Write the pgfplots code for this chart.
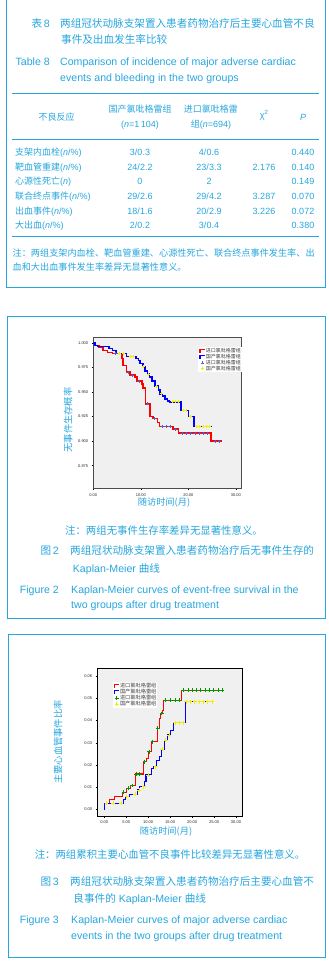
\documentclass[border=0pt]{standalone}
\usepackage{pgfplots}
\pgfplotsset{compat=1.18}
\usepackage{fontspec}
\setmainfont{Liberation Sans}
\newfontfamily\cjk{Noto Sans CJK SC}
\definecolor{tb}{RGB}{38,166,222}
\definecolor{bgc}{RGB}{240,240,240}
\definecolor{kred}{RGB}{255,0,0}
\definecolor{kblue}{RGB}{0,0,255}
\definecolor{kyel}{RGB}{240,240,0}
\definecolor{kgreen}{RGB}{0,150,0}
\definecolor{kcens}{RGB}{90,90,200}
\newcommand{\fs}[1]{\fontsize{#1bp}{#1bp}\selectfont}
\pgfplotsset{
  km/.style={scale only axis, axis background/.style={fill=bgc},
    tick pos=left, tick align=outside, major tick length=1.6bp,
    tick style={black, line width=0.4bp},
    ticklabel style={font=\fs{4}, text=black!85},
    scaled x ticks=false, scaled y ticks=false,
    legend cell align=left,
  },
  stepimg/.style={legend image code/.code={\draw[##1,sharp plot] (0bp,-1.8bp) -- (0bp,1.3bp) -- (5bp,1.3bp);}},
  markimg/.style={legend image code/.code={\draw[##1] plot coordinates {(2.5bp,0bp)};}},
  nf/.style={/pgf/number format/fixed, /pgf/number format/fixed zerofill,
    /pgf/number format/precision=#1, /pgf/number format/assume math mode=true},
}
\begin{document}
\begin{tikzpicture}[x=1bp,y=1bp]
\path[use as bounding box] (0,0) rectangle (328,-965);
% ---------- boxes
\draw[tb, line width=1bp] (6.5,5) -- (6.5,-287.3) -- (325,-287.3) -- (325,5);
\draw[tb, line width=1bp] (7,-316) rectangle (325,-618);
\draw[tb, line width=1bp] (8,-634) rectangle (325,-957.3);
% ---------- table title
\begin{scope}[every node/.style={inner sep=0, text=tb}]
\node[anchor=base east, font=\fs{10.6}] at (50,-27.2) {{\cjk 表}\,8};
\node[anchor=base west, font=\fs{10.6}\cjk] at (60,-27.2) {两组冠状动脉支架置入患者药物治疗后主要心血管不良};
\node[anchor=base west, font=\fs{10.6}\cjk] at (61,-43.2) {事件及出血发生率比较};
\node[anchor=base east, font=\fs{10.6}] at (50,-65.5) {Table 8};
\node[anchor=base west, font=\fs{10.6}] at (60,-65.5) {Comparison of incidence of major adverse cardiac};
\node[anchor=base west, font=\fs{10.6}] at (60,-81.2) {events and bleeding in the two groups};
\draw[tb, line width=0.9bp] (12,-93.3) -- (319,-93.3);
\draw[tb, line width=0.9bp] (12,-139.3) -- (319,-139.3);
\draw[tb, line width=0.9bp] (12,-236) -- (319,-236);
% header
\node[anchor=base, font=\fs{9}\cjk] at (56.7,-120) {不良反应};
\node[anchor=base, font=\fs{9}\cjk] at (140,-112.3) {国产氯吡格雷组};
\node[anchor=base, font=\fs{9}] at (140,-127.6) {(\textit{n}=1\,104)};
\node[anchor=base, font=\fs{9}\cjk] at (210.8,-112.3) {进口氯吡格雷};
\node[anchor=base, font=\fs{9}] at (211,-127.6) {{\cjk 组}(\textit{n}=694)};
\node[anchor=base, font=\fs{9}] at (264,-118.3) {χ\raisebox{3.5bp}{\fs{6}2}};
\node[anchor=base, font=\fs{9}] at (303,-120) {\textit{P}};
% rows
\begin{scope}[every node/.append style={font=\fs{9}}]
\node[anchor=base west] at (15,-155.6) {{\cjk 支架内血栓}(\textit{n}/\%)};
\node[anchor=base] at (140,-155.6) {3/0.3};
\node[anchor=base] at (209,-155.6) {4/0.6};
\node[anchor=base] at (303,-155.6) {0.440};
\node[anchor=base west] at (15,-170.3) {{\cjk 靶血管重建}(\textit{n}/\%)};
\node[anchor=base] at (140,-170.3) {24/2.2};
\node[anchor=base] at (209,-170.3) {23/3.3};
\node[anchor=base] at (264,-170.3) {2.176};
\node[anchor=base] at (303,-170.3) {0.140};
\node[anchor=base west] at (15,-184.9) {{\cjk 心源性死亡}(\textit{n})};
\node[anchor=base] at (140,-184.9) {0};
\node[anchor=base] at (209,-184.9) {2};
\node[anchor=base] at (303,-184.9) {0.149};
\node[anchor=base west] at (15,-199.5) {{\cjk 联合终点事件}(\textit{n}/\%)};
\node[anchor=base] at (140,-199.5) {29/2.6};
\node[anchor=base] at (209,-199.5) {29/4.2};
\node[anchor=base] at (264,-199.5) {3.287};
\node[anchor=base] at (303,-199.5) {0.070};
\node[anchor=base west] at (15,-214.1) {{\cjk 出血事件}(\textit{n}/\%)};
\node[anchor=base] at (140,-214.1) {18/1.6};
\node[anchor=base] at (209,-214.1) {20/2.9};
\node[anchor=base] at (264,-214.1) {3.226};
\node[anchor=base] at (303,-214.1) {0.072};
\node[anchor=base west] at (15,-228.7) {{\cjk 大出血}(\textit{n}/\%)};
\node[anchor=base] at (140,-228.7) {2/0.2};
\node[anchor=base] at (209,-228.7) {3/0.4};
\node[anchor=base] at (303,-228.7) {0.380};
\end{scope}
\node[anchor=base west, font=\fs{9.15}\cjk] at (12.5,-256.1) {注：两组支架内血栓、靶血管重建、心源性死亡、联合终点事件发生率、出};
\node[anchor=base west, font=\fs{9.15}\cjk] at (12.5,-270.7) {血和大出血事件发生率差异无显著性意义。};
% ---------- figure 2 texts
\node[rotate=90, font=\fs{9.3}\cjk] at (68,-420) {无事件生存概率};
\node[font=\fs{9.2}\cjk] at (164,-503) {随访时间(月)};
\node[anchor=base, font=\fs{10.4}\cjk] at (164,-534.6) {注：两组无事件生存率差异无显著性意义。};
\node[anchor=base east, font=\fs{10.6}] at (59,-554.9) {{\cjk 图}\,2};
\node[anchor=base west, font=\fs{10.6}\cjk] at (70,-554.9) {两组冠状动脉支架置入患者药物治疗后无事件生存的};
\node[anchor=base west, font=\fs{10.6}] at (72.7,-572.2) {Kaplan-Meier {\cjk 曲线}};
\node[anchor=base east, font=\fs{10.6}] at (59,-593.2) {Figure 2};
\node[anchor=base west, font=\fs{10.6}] at (71,-593.2) {Kaplan-Meier curves of event-free survival in the};
\node[anchor=base west, font=\fs{10.6}] at (71,-608.9) {two groups after drug treatment};
% ---------- figure 3 texts
\node[rotate=90, font=\fs{9.3}\cjk] at (58,-742) {主要心血管事件比率};
\node[font=\fs{9.2}\cjk] at (166,-832) {随访时间(月)};
\node[anchor=base, font=\fs{10.4}\cjk] at (170,-858.9) {注：两组累积主要心血管不良事件比较差异无显著性意义。};
\node[anchor=base east, font=\fs{10.6}] at (59,-885.6) {{\cjk 图}\,3};
\node[anchor=base west, font=\fs{10.6}\cjk] at (70,-885.6) {两组冠状动脉支架置入患者药物治疗后主要心血管不};
\node[anchor=base west, font=\fs{10.6}] at (73.3,-902.2) {{\cjk 良事件的} Kaplan-Meier {\cjk 曲线}};
\node[anchor=base east, font=\fs{10.6}] at (59,-923.2) {Figure 3};
\node[anchor=base west, font=\fs{10.6}] at (71,-923.2) {Kaplan-Meier curves of major adverse cardiac};
\node[anchor=base west, font=\fs{10.6}] at (71,-939.6) {events in the two groups after drug treatment};
\end{scope}

% ---------- chart 1: event-free survival
\begin{axis}[km, at={(93.3bp,-488.3bp)}, anchor=south west,
  width=148.4bp, height=151.3bp,
  xmin=0, xmax=31.24, ymin=0.852, ymax=1.0058,
  axis line style={draw=black!70, line width=0.8bp},
  xtick={0,10,20,30}, ytick={0.875,0.9,0.925,0.95,0.975,1},
  x tick label style={nf=2},
  y tick label style={nf=3},
  legend style={at={(1,0.934)}, anchor=north east, fill=white, draw=none,
    inner sep=0.6bp, font=\fs{5}\cjk, text=black!75, row sep=0bp,
    nodes={inner sep=0.15bp}},
]
\addplot[const plot, kred, line width=1.6bp, stepimg] coordinates {
(0,1.000) (0.5,0.997) (1.2,0.995) (2.0,0.992) (3.0,0.990) (4.0,0.989)
(6.0,0.984) (6.3,0.977) (7.0,0.970) (7.7,0.967) (8.8,0.965) (9.2,0.961)
(10.2,0.958) (10.5,0.954) (11.0,0.938) (11.9,0.925) (12.6,0.923) (13.5,0.919)
(13.9,0.915) (16.8,0.912) (17.9,0.908) (24.8,0.900) (27.0,0.900)};
\addlegendentry{进口氯吡格雷组}
\addplot[const plot, kblue, line width=1.6bp, stepimg] coordinates {
(0,1.000) (0.4,0.997) (0.9,0.996) (3.3,0.994) (4.0,0.992) (4.8,0.989)
(7.0,0.986) (9.0,0.984) (9.5,0.982) (9.8,0.979) (10.4,0.976) (10.9,0.971)
(11.4,0.968) (11.8,0.965) (12.3,0.961) (13.0,0.956) (13.7,0.952) (14.0,0.948)
(14.6,0.946) (15.1,0.943) (15.6,0.941) (16.0,0.940) (18.4,0.931) (20.0,0.925)
(21.2,0.915) (24.9,0.915)};
\addlegendentry{国产氯吡格雷组}
\addplot[only marks, mark=+, mark size=1.5bp, kcens, line width=0.4bp, markimg] coordinates {
(4.6,0.989) (5.4,0.989) (7.3,0.970) (8.2,0.967) (9.6,0.961) (11.4,0.938)
(12.9,0.923) (14.5,0.915) (15.3,0.915) (16.1,0.915) (17.3,0.912) (18.7,0.908)
(19.6,0.908) (20.5,0.908) (21.4,0.908) (22.3,0.908) (23.2,0.908) (24.0,0.908)
(25.7,0.900) (26.5,0.900)};
\addlegendentry{进口氯吡格雷组}
\addplot[only marks, mark=+, mark size=1.5bp, kyel, line width=0.8bp, markimg] coordinates {
(5.5,0.989) (6.4,0.989) (7.8,0.986) (8.5,0.986) (10.6,0.976) (11.6,0.968)
(13.3,0.956) (14.3,0.948) (16.6,0.940) (17.3,0.940) (18.0,0.940) (18.9,0.931)
(19.5,0.931) (20.5,0.925) (21.7,0.915) (22.4,0.915) (23.1,0.915) (23.8,0.915)
(24.5,0.915)};
\addlegendentry{国产氯吡格雷组}
\end{axis}

% ---------- chart 2: cumulative MACE
\begin{axis}[km, at={(97.3bp,-816bp)}, anchor=south west,
  width=145.4bp, height=147.7bp,
  xmin=-1.59, xmax=31.53, ymin=-0.003, ymax=0.0635,
  axis line style={draw=black, line width=1bp},
  xtick={0,5,10,15,20,25,30}, ytick={0,0.01,0.02,0.03,0.04,0.05,0.06},
  x tick label style={nf=2},
  y tick label style={nf=2},
  legend style={at={(0.108,0.907)}, anchor=north west, fill=white, draw=none,
    inner sep=0.6bp, font=\fs{5.2}\cjk, text=black!75, row sep=0bp,
    nodes={inner sep=0.1bp}},
]
\addplot[const plot, kred, line width=1.1bp, stepimg] coordinates {
(0,0) (0.15,0.0027) (1.1,0.0045) (2.4,0.0057) (4.2,0.0077) (5.1,0.0095)
(6.0,0.0107) (7.1,0.0159) (9.0,0.0215) (9.6,0.0230) (10.1,0.0260) (10.8,0.0305)
(12.1,0.0365) (12.5,0.0410) (12.9,0.0432) (13.3,0.0447) (13.4,0.0492)
(17.6,0.0537) (27.0,0.0537)};
\addlegendentry{进口氯吡格雷组}
\addplot[const plot, kblue, line width=1.1bp, stepimg] coordinates {
(0,0) (0.05,0.0027) (4.3,0.0045) (4.9,0.0057) (5.8,0.0068) (7.5,0.0087)
(8.1,0.0102) (9.1,0.0125) (9.5,0.0155) (10.8,0.0185) (11.3,0.0192) (11.9,0.0222)
(12.5,0.0237) (13.0,0.0270) (13.8,0.0312) (14.4,0.0335) (15.0,0.0357)
(15.7,0.0390) (18.5,0.0485) (24.8,0.0485)};
\addlegendentry{国产氯吡格雷组}
\addplot[only marks, mark=+, mark size=1.9bp, kgreen, line width=0.8bp, markimg] coordinates {
(0.5,0.0027) (4.4,0.0077) (5.4,0.0095) (6.3,0.0107) (7.3,0.0159) (8.1,0.0159)
(9.2,0.0215) (10.2,0.0260) (11.0,0.0305) (12.2,0.0365) (13.1,0.0432)
(14.0,0.0492) (15.1,0.0492) (16.1,0.0492) (17.0,0.0492)
(17.95,0.0537) (19.1,0.0537) (20.1,0.0537) (21.0,0.0537) (21.9,0.0537)
(23.0,0.0537) (23.9,0.0537) (24.8,0.0537) (25.9,0.0537) (26.9,0.0537)};
\addlegendentry{进口氯吡格雷组}
\addplot[only marks, mark=+, mark size=1.9bp, kyel, line width=0.8bp, markimg] coordinates {
(0.5,0.0027) (2.0,0.0027) (3.8,0.0027) (5.1,0.0057) (7.0,0.0068) (7.95,0.0087)
(9.0,0.0102) (10.0,0.0155) (11.7,0.0192) (13.2,0.0270) (14.0,0.0312)
(14.8,0.0335) (16.1,0.0390) (17.0,0.0390) (17.95,0.0390)
(18.7,0.0485) (19.6,0.0485) (20.6,0.0485) (21.6,0.0485) (22.5,0.0485)
(23.6,0.0485) (24.6,0.0485)};
\addlegendentry{国产氯吡格雷组}
\end{axis}
\end{tikzpicture}
\end{document}
